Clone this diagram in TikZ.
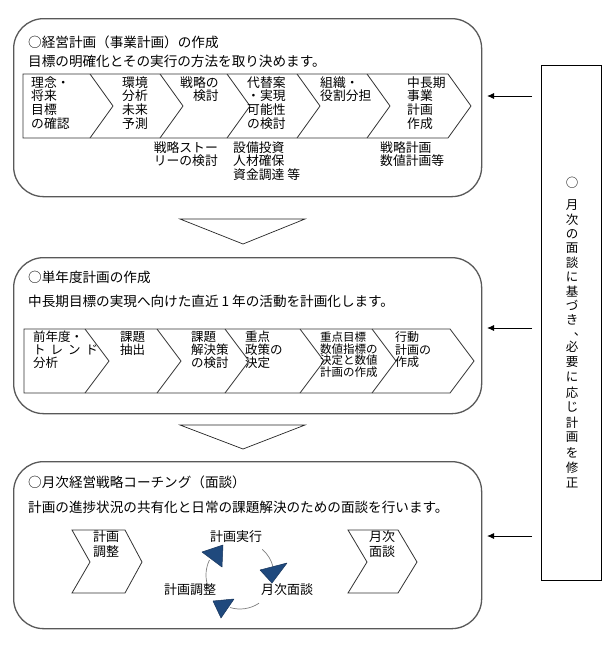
\documentclass[tikz,border=0pt]{standalone}
\usepackage{fontspec}
\setmainfont{Noto Sans CJK JP}
\usetikzlibrary{arrows.meta}
\definecolor{navy}{RGB}{31,73,125}
\definecolor{navyline}{RGB}{22,52,92}
\newcommand\tS{\rule{0pt}{0.88em}}
\begin{document}
\lineskiplimit=-20pt
\lineskip=0pt
\begin{tikzpicture}[x=1pt,y=-1pt,
  panel/.style={draw=black!65, line width=1.3pt, rounded corners=30pt, inner sep=0pt, anchor=north west},
  chev/.style={draw=black!80, line width=0.8pt, fill=white},
  down/.style={draw=black!85, line width=0.7pt, fill=white},
  head/.style={anchor=north west, inner sep=0pt, font=\fontsize{13.6}{14}\selectfont},
  ct/.style={anchor=north west, inner sep=0pt, align=left, font=\fontsize{12.8}{13.7}\selectfont},
  ctm/.style={anchor=north west, inner sep=0pt, align=left, font=\fontsize{12.5}{13}\selectfont},
  cts/.style={anchor=north west, inner sep=0pt, align=left, font=\fontsize{11.5}{11.7}\selectfont},
  lbl/.style={anchor=center, inner sep=0pt, font=\fontsize{13}{13}\selectfont},
  vch/.style={anchor=center, inner sep=0pt, font=\fontsize{12.5}{12.5}\selectfont},
  arr/.style={draw=black, line width=0.9pt, -{Latex[length=7pt,width=6pt]}},
  cyc/.style={draw=black!50, line width=0.7pt},
  tri/.style={fill=navy, draw=navyline, line width=0.5pt, line join=round}
]
\useasboundingbox[fill=white] (0,0) rectangle (612,648);

% ---------- panels ----------
\node[panel, minimum width=468pt, minimum height=178pt] (p1) at (13,18) {};
\node[panel, minimum width=468pt, minimum height=156pt] (p2) at (13,257) {};
\node[panel, minimum width=468pt, minimum height=167pt] (p3) at (13,461) {};

% ---------- down triangles ----------
\draw[down] (180,219) -- (305,219) -- (243,244) -- cycle;
\draw[down] (180,425) -- (305,425) -- (243,449) -- cycle;

% ---------- right box ----------
\node[draw=black, line width=0.9pt, inner sep=0pt, anchor=north west,
      minimum width=60pt, minimum height=515pt] (rb) at (541,65) {};
\node[vch] (v0) at (572,183) {○};
\foreach \c [count=\i from 0] in {月,次,の,面,談,に,基,づ,き}
  \node[vch] (va\i) at (572,{205+\i*14.4}) {\c};
\node[vch] (vc) at (580,334) {、};
\foreach \c [count=\i from 0] in {必,要,に,応,じ,計,画,を,修,正}
  \node[vch] (vb\i) at (572,{347+\i*15.1}) {\c};

% ---------- arrows from right box ----------
\coordinate (a1s) at (532,96);  \coordinate (a1e) at (487,96);
\coordinate (a2s) at (532,328); \coordinate (a2e) at (487,328);
\coordinate (a3s) at (532,536); \coordinate (a3e) at (487,536);
\draw[arr] (a1s) -- (a1e);
\draw[arr] (a2s) -- (a2e);
\draw[arr] (a3s) -- (a3e);

% ---------- panel 1 ----------
\node[head] (t1) at (28,35.2) {○経営計画（事業計画）の作成};
\node[head] (s1) at (28,55.2) {目標の明確化とその実行の方法を取り決めます。};
\draw[chev] (23,74) -- (448,74) -- (471,106) -- (448,138) -- (23,138) -- cycle;
\foreach \b in {90,160,227,297,367}
  \draw[chev] (\b,74) -- (\b+23,106) -- (\b,138);
\node[ct] (k1) at (31,75.6) {\tS 理念・\\将来\\目標\\の確認};
\node[ct] (k2) at (122,75.6) {\tS 環境\\分析\\未来\\予測};
\node[ct] (k3) at (180,75.6) {\tS 戦略の\\　検討};
\node[ct] (k4) at (247,75.6) {\tS 代替案\\・実現\\可能性\\の検討};
\node[ct] (k5) at (320,75.6) {\tS 組織・\\役割分担};
\node[ct] (k6) at (407,75.6) {\tS 中長期\\事業\\計画\\作成};
\node[ct, anchor=north east, align=right] (n1) at (218,140.6) {\tS 戦略ストー\\リーの検討};
\node[ct] (n2) at (233,140.6) {\tS 設備投資\\人材確保\\資金調達 等};
\node[ct] (n3) at (380,140.6) {\tS 戦略計画\\数値計画等};

% ---------- panel 2 ----------
\node[head] (t2) at (28,271.2) {○単年度計画の作成};
\node[head] (s2) at (28,295.2) {中長期目標の実現へ向けた直近 1 年の活動を計画化します。};
\draw[chev] (24,329) -- (450,329) -- (474,361) -- (450,393) -- (24,393) -- cycle;
\foreach \b in {85,157,225,300,372}
  \draw[chev] (\b,329) -- (\b+24,361) -- (\b,393);
\node[ctm] (m1) at (33,330.75) {\tS 前年度・\\ト\hspace{5pt}レ\hspace{5pt}ン\hspace{5pt}ド\\分析};
\node[ctm] (m2) at (120,330.75) {\tS 課題\\抽出};
\node[ctm] (m3) at (191,330.75) {\tS 課題\\解決策\\の検討};
\node[ctm] (m4) at (245,330.75) {\tS 重点\\政策の\\決定};
\node[cts] (m5) at (320,331.25) {\tS 重点目標\\数値指標の\\決定と数値\\計画の作成};
\node[ctm, font=\fontsize{12}{12.5}\selectfont] (m6) at (395,331) {\tS 行動\\計画の\\作成};

% ---------- panel 3 ----------
\node[head] (t3) at (28,475.2) {○月次経営戦略コーチング（面談）};
\node[head] (s3) at (28,501.2) {計画の進捗状況の共有化と日常の課題解決のための面談を行います。};
\draw[chev] (72,530) -- (125,530) -- (142,562) -- (125,593) -- (72,593) -- (90,562) -- cycle;
\draw[chev] (348,530) -- (398,530) -- (417,562) -- (398,593) -- (348,593) -- (367,562) -- cycle;
\node[ct, font=\fontsize{13}{15}\selectfont] (b1) at (93,529.5) {\tS 計画\\調整};
\node[ct, font=\fontsize{13}{15}\selectfont, anchor=north, align=center] (b2) at (382,529.5) {\tS 月次\\面談};

% cycle
\coordinate (cc) at (240,575);
\node[lbl] (c1) at (236,537) {計画実行};
\node[lbl] (c2) at (287,590) {月次面談};
\node[lbl] (c3) at (190,590) {計画調整};
\draw[cyc] (cc) ++(-49:34) arc[start angle=-49, end angle=-13, radius=34];
\draw[cyc] (cc) ++(56:34) arc[start angle=56, end angle=107, radius=34];
\draw[cyc] (cc) ++(165:34) arc[start angle=165, end angle=206, radius=34];
\draw[tri] (202,552) -- (223,545) -- (222,567) -- cycle;
\draw[tri] (260,570) -- (287,563) -- (272,583) -- cycle;
\draw[tri] (213,601) -- (234,599) -- (221,618) -- cycle;
\end{tikzpicture}
\end{document}
